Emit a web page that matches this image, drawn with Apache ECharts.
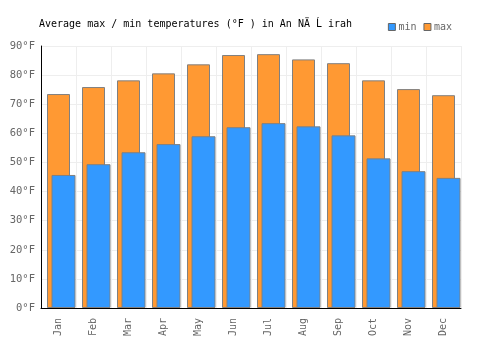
<!DOCTYPE html>
<html><head><meta charset="utf-8">
<script src="https://cdn.jsdelivr.net/npm/echarts@6/dist/echarts.min.js"></script>
<style>html,body{margin:0;padding:0;background:#fff}#c{width:500px;height:350px}</style>
</head><body><div id="c"></div>
<script>
const months = ['Jan','Feb','Mar','Apr','May','Jun','Jul','Aug','Sep','Oct','Nov','Dec'];
const minTemps = [45.7, 49.4, 53.5, 56.3, 59.0, 62.1, 63.5, 62.4, 59.3, 51.4, 47.0, 44.7];
const maxTemps = [73.5, 75.9, 78.2, 80.6, 83.7, 86.9, 87.2, 85.4, 84.1, 78.2, 75.2, 73.1];
const yTicks = [0, 10, 20, 30, 40, 50, 60, 70, 80, 90];
const titleText = 'Average max / min temperatures (°F ) in An NÄ Ĺ irah';

const font = 'DejaVu Sans Mono';
const chart = echarts.init(document.getElementById('c'), null, {renderer: 'canvas'});
chart.setOption({
  animation: false,
  textStyle: {fontFamily: font},
  title: {text: titleText, left: 34, top: 14,
    textStyle: {fontFamily: font, fontSize: 10, fontWeight: 'normal', color: '#000'}},
  legend: {data: ['min', 'max'], right: 43, top: 17, itemWidth: 7, itemHeight: 7, itemGap: 7,
    icon: 'rect',
    itemStyle: {borderColor: '#666', borderWidth: 1},
    textStyle: {fontFamily: font, fontSize: 10, color: '#666', padding: [0,0,0,-2]}},
  grid: {left: 41, right: 39, top: 46, bottom: 42},
  xAxis: [{type: 'category', data: months, boundaryGap: true,
    axisLine: {lineStyle: {color: '#000', width: 1}},
    axisTick: {show: false},
    splitLine: {show: true, lineStyle: {color: '#eeeeee'}},
    axisLabel: {rotate: 90, color: '#666', fontFamily: font, fontSize: 10, margin: 10}},
   {type: 'category', data: months, show: false, position: 'bottom'}],
  yAxis: {type: 'value', min: 0, max: 90, interval: 10,
    axisLine: {show: true, lineStyle: {color: '#000'}},
    axisTick: {show: false},
    splitLine: {lineStyle: {color: '#eeeeee'}},
    axisLabel: {color: '#666', fontFamily: font, fontSize: 10.5, margin: 6,
      formatter: v => yTicks.includes(v) ? v + '°F' : ''}},
  series: [
    {name: 'max', type: 'bar', xAxisIndex: 0, data: maxTemps, barWidth: 23,
      itemStyle: {color: '#ff9933', borderColor: '#808080', borderWidth: 1}},
    {name: 'pad', type: 'bar', xAxisIndex: 1, data: months.map(() => '-'), barWidth: 10, barGap: 0,
      itemStyle: {color: 'transparent'}},
    {name: 'min', type: 'bar', xAxisIndex: 1, data: minTemps, barWidth: 24, barGap: 0,
      itemStyle: {color: '#3399ff', borderColor: '#808080', borderWidth: 1}}
  ]
});
</script></body></html>
